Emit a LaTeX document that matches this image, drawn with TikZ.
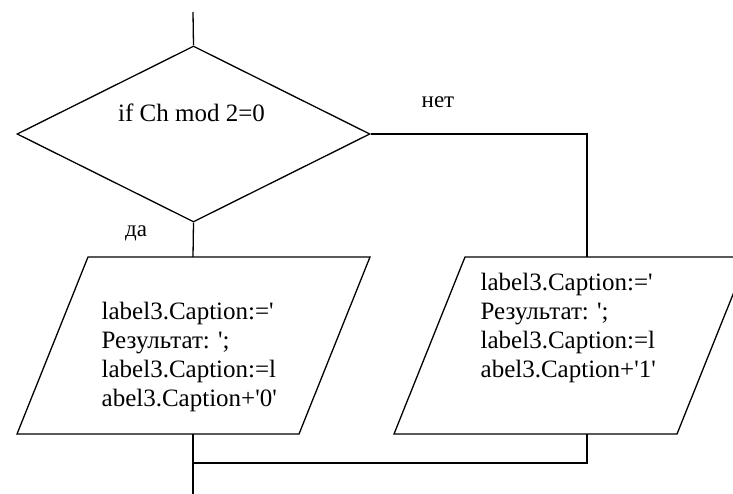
\documentclass[tikz,border=0pt]{standalone}
\usepackage{fontspec}
\setmainfont{Liberation Serif}
\usetikzlibrary{shapes.geometric}

\newcommand{\sq}{\textquotesingle}

\begin{document}
\begin{tikzpicture}[x=1pt, y=-1pt, line width=1.3pt,
  txt/.style={font=\fontsize{25}{29}\selectfont, align=left, inner sep=0pt},
  lbl/.style={font=\fontsize{23}{26}\selectfont, inner sep=0pt}]

\useasboundingbox (0,0) rectangle (733,494);
\clip (0,0) rectangle (733,494);

% decision
\coordinate (start) at (193,12);
\node [diamond, draw, minimum width=353pt, minimum height=176pt, inner sep=0pt] (cond) at (193.5,134) {};
\node [txt, anchor=center] (condtxt) at (191.5,113) {if Ch mod 2=0};

\node [lbl] (yes) at (136,233) {да};
\node [lbl] (no) at (438,102) {нет};

% output blocks
\draw (88,257) -- (370,257) -- (299,434) -- (17,434) -- cycle;
\draw (465,257) -- (748,257) -- (677,434) -- (394,434) -- cycle;

\node [txt, anchor=west] (outzero) at (101,357) {label3.Caption:=\sq\\Результат: \sq;\\label3.Caption:=l\\abel3.Caption+\sq0\sq};
\node [txt, anchor=west] (outone) at (480,328) {label3.Caption:=\sq\\Результат: \sq;\\label3.Caption:=l\\abel3.Caption+\sq1\sq};

\coordinate (ltop) at (193,257);
\coordinate (rtop) at (587,257);
\coordinate (lbot) at (193,434);
\coordinate (rbot) at (587,434);
\coordinate (join) at (193,463);
\coordinate (exit) at (193,494);

% connectors
\draw (start) -- (cond.north);
\draw (cond.south) -- (ltop);
\draw (cond.east) -| (rtop);
\draw (lbot) -- (exit);
\draw (rbot) |- (join);

\end{tikzpicture}
\end{document}
